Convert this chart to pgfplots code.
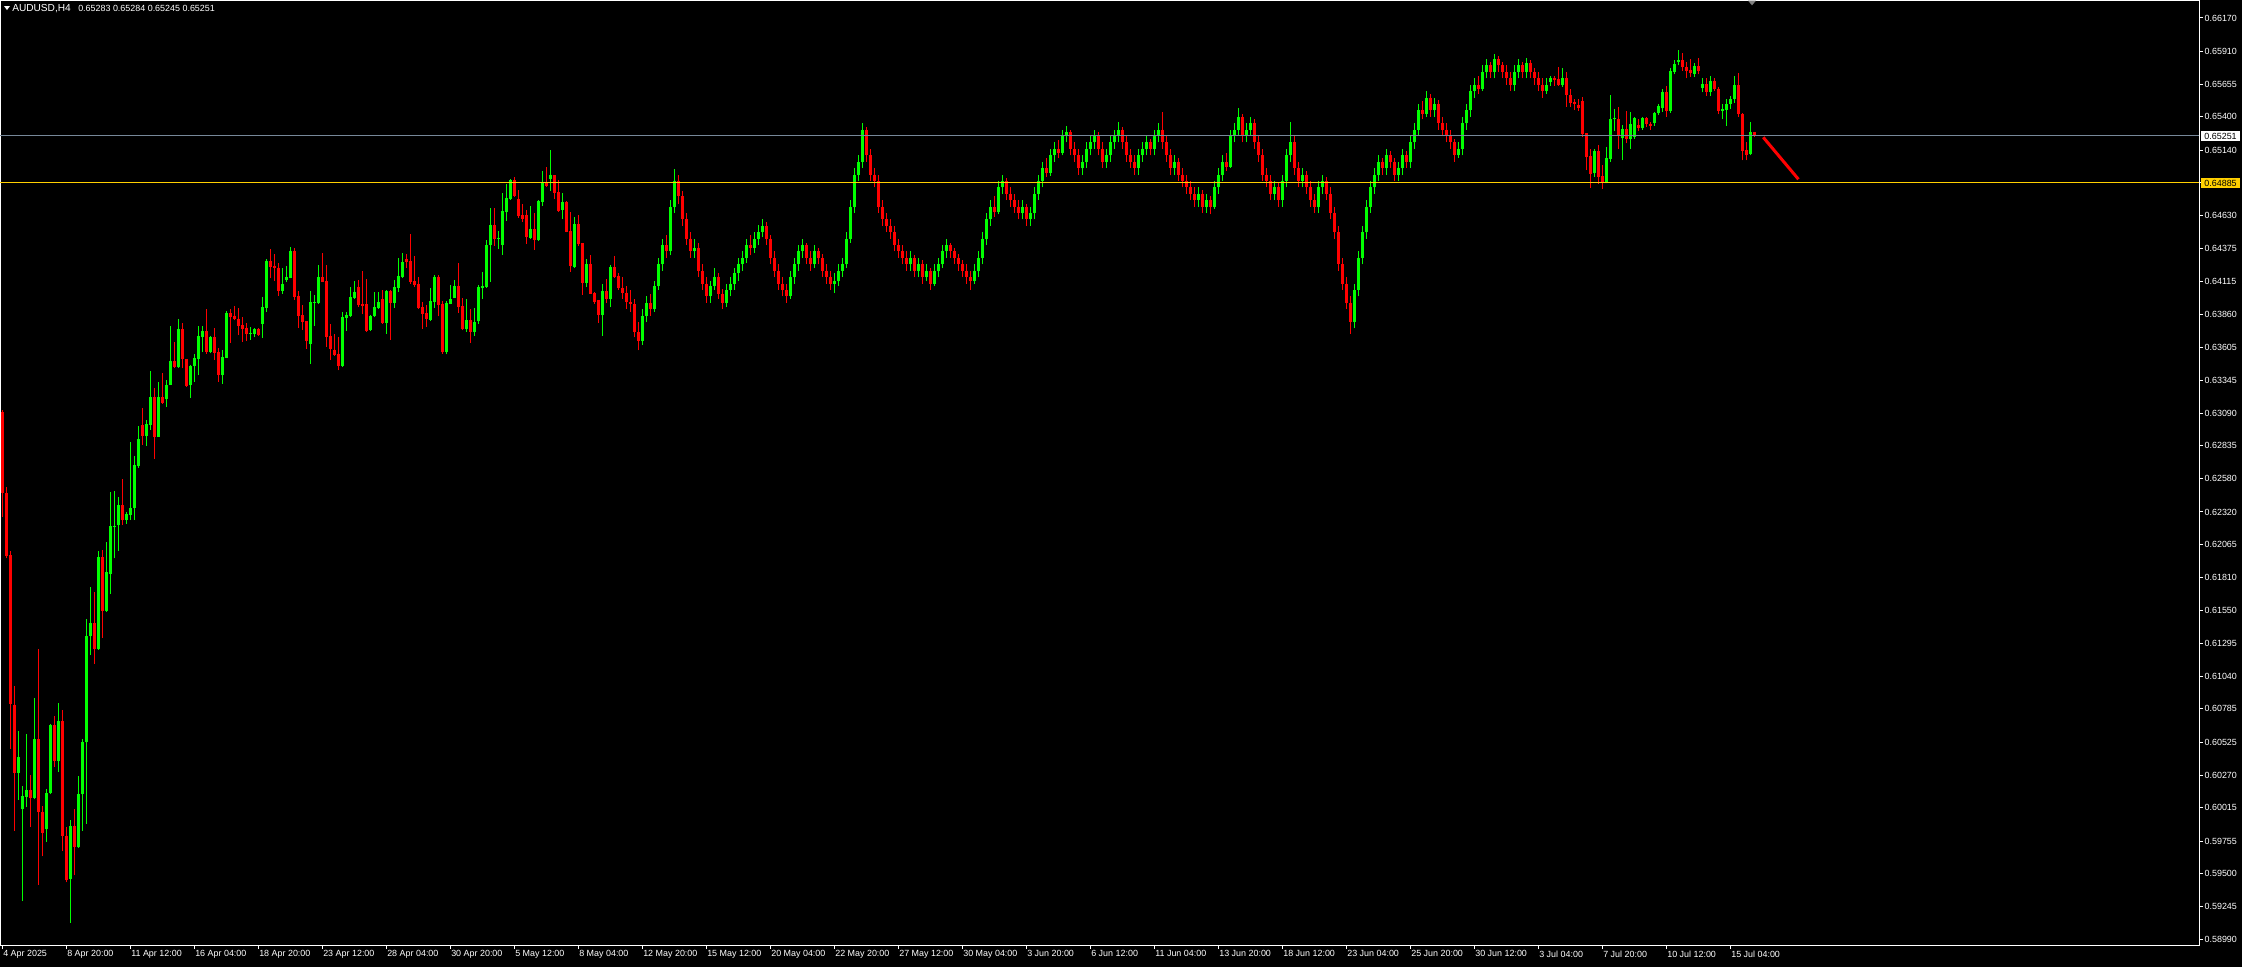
\documentclass[border=0pt]{standalone}
\usepackage{fontspec}
\setmainfont{Liberation Sans}
\usepackage{pgfplots}
\usepackage{pgfplotstable}
\pgfplotsset{compat=1.18}

\definecolor{bull}{RGB}{0,255,0}
\definecolor{bear}{RGB}{255,0,0}
\definecolor{bidline}{RGB}{119,136,153}
\definecolor{gold}{RGB}{255,208,0}

% AUDUSD H4 bars: index, open, high, low, close
\pgfplotstableread{
i o h l c
0 0.63098 0.63112 0.62280 0.62468
1 0.62468 0.62514 0.61958 0.61979
2 0.61984 0.62019 0.60476 0.60820
3 0.60817 0.60964 0.59837 0.60288
4 0.60288 0.60610 0.60079 0.60414
5 0.60006 0.60186 0.59287 0.60105
6 0.60100 0.60588 0.60020 0.60153
7 0.60153 0.60267 0.59864 0.60092
8 0.60092 0.60871 0.60080 0.60549
9 0.60549 0.61254 0.59415 0.59984
10 0.59984 0.60025 0.59636 0.59818
11 0.59850 0.60164 0.59751 0.60127
12 0.60127 0.60670 0.60119 0.60656
13 0.60656 0.60728 0.60334 0.60382
14 0.60382 0.60830 0.60294 0.60691
15 0.60691 0.60776 0.59676 0.59797
16 0.59797 0.59864 0.59434 0.59454
17 0.59461 0.59923 0.59118 0.59869
18 0.59869 0.60004 0.59488 0.59711
19 0.59711 0.60261 0.59703 0.60119
20 0.60119 0.60554 0.59837 0.60527
21 0.60527 0.61486 0.59891 0.61351
22 0.61351 0.61735 0.61206 0.61453
23 0.61453 0.61694 0.61139 0.61254
24 0.61254 0.62019 0.61246 0.61966
25 0.61966 0.62022 0.61341 0.61550
26 0.61550 0.62086 0.61542 0.61850
27 0.61837 0.62475 0.61684 0.62207
28 0.62207 0.62481 0.61958 0.62210
29 0.62220 0.62436 0.62019 0.62374
30 0.62374 0.62577 0.62218 0.62257
31 0.62257 0.62322 0.62230 0.62304
32 0.62296 0.62863 0.62257 0.62348
33 0.62348 0.62756 0.62257 0.62686
34 0.62678 0.62990 0.62665 0.62886
35 0.62998 0.63133 0.62842 0.62912
36 0.62912 0.63037 0.62837 0.63006
37 0.62998 0.63419 0.62959 0.63216
38 0.63216 0.63286 0.62733 0.62907
39 0.62907 0.63333 0.62907 0.63216
40 0.63216 0.63403 0.63162 0.63167
41 0.63200 0.63348 0.63141 0.63309
42 0.63309 0.63769 0.63309 0.63496
43 0.63496 0.63644 0.63439 0.63450
44 0.63450 0.63824 0.63444 0.63746
45 0.63746 0.63793 0.63439 0.63512
46 0.63512 0.63512 0.63294 0.63302
47 0.63309 0.63465 0.63211 0.63460
48 0.63460 0.63551 0.63335 0.63520
49 0.63512 0.63769 0.63387 0.63694
50 0.63686 0.63772 0.63569 0.63730
51 0.63730 0.63902 0.63554 0.63567
52 0.63567 0.63694 0.63556 0.63683
53 0.63683 0.63756 0.63507 0.63559
54 0.63569 0.63595 0.63335 0.63387
55 0.63387 0.63582 0.63320 0.63528
56 0.63520 0.63886 0.63517 0.63871
57 0.63871 0.63904 0.63637 0.63842
58 0.63850 0.63925 0.63813 0.63824
59 0.63824 0.63910 0.63699 0.63769
60 0.63777 0.63839 0.63647 0.63746
61 0.63756 0.63793 0.63652 0.63710
62 0.63710 0.63762 0.63663 0.63715
63 0.63710 0.63751 0.63684 0.63746
64 0.63746 0.63756 0.63692 0.63699
65 0.63787 0.63995 0.63678 0.63917
66 0.63912 0.64294 0.63881 0.64276
67 0.64276 0.64369 0.64141 0.64229
68 0.64240 0.64330 0.64120 0.64224
69 0.64224 0.64258 0.64006 0.64042
70 0.64042 0.64219 0.64021 0.64099
71 0.64130 0.64240 0.64115 0.64151
72 0.64146 0.64385 0.64141 0.64354
73 0.64354 0.64377 0.63975 0.63995
74 0.64006 0.64042 0.63756 0.63850
75 0.63855 0.63933 0.63738 0.63803
76 0.63808 0.63808 0.63590 0.63652
77 0.63632 0.64042 0.63476 0.63956
78 0.63951 0.64011 0.63772 0.63956
79 0.63948 0.64245 0.63943 0.64151
80 0.64151 0.64338 0.64112 0.64115
81 0.64120 0.64245 0.63606 0.63683
82 0.63694 0.63787 0.63507 0.63590
83 0.63585 0.63710 0.63538 0.63543
84 0.63554 0.63684 0.63424 0.63460
85 0.63460 0.63878 0.63450 0.63839
86 0.63834 0.63881 0.63733 0.63855
87 0.63850 0.64073 0.63842 0.63995
88 0.63990 0.64120 0.63980 0.64034
89 0.64073 0.64130 0.63917 0.63933
90 0.63943 0.64198 0.63860 0.63928
91 0.63941 0.64138 0.63725 0.63730
92 0.63735 0.63855 0.63730 0.63850
93 0.63850 0.64032 0.63839 0.63917
94 0.63912 0.64032 0.63902 0.63956
95 0.63980 0.64052 0.63787 0.63793
96 0.63793 0.64050 0.63710 0.64042
97 0.64042 0.64047 0.63663 0.63948
98 0.63948 0.64125 0.63912 0.64073
99 0.64068 0.64302 0.64037 0.64159
100 0.64151 0.64338 0.64146 0.64268
101 0.64291 0.64333 0.64224 0.64271
102 0.64276 0.64489 0.64099 0.64115
103 0.64120 0.64317 0.64073 0.64089
104 0.64097 0.64151 0.63902 0.63912
105 0.63917 0.63954 0.63748 0.63865
106 0.63871 0.63933 0.63764 0.63824
107 0.63819 0.64068 0.63808 0.63964
108 0.63959 0.64167 0.63912 0.64151
109 0.64151 0.64167 0.63845 0.63933
110 0.63943 0.63964 0.63554 0.63569
111 0.63569 0.63964 0.63548 0.63948
112 0.63943 0.64089 0.63938 0.63980
113 0.63990 0.64130 0.63985 0.64084
114 0.64084 0.64260 0.63871 0.63917
115 0.63928 0.63985 0.63735 0.63746
116 0.63746 0.63980 0.63725 0.63816
117 0.63816 0.63902 0.63637 0.63725
118 0.63725 0.63912 0.63694 0.63800
119 0.63808 0.64089 0.63787 0.64073
120 0.64068 0.64190 0.63980 0.64084
121 0.64073 0.64442 0.64068 0.64401
122 0.64401 0.64689 0.64115 0.64556
123 0.64556 0.64689 0.64395 0.64447
124 0.64450 0.64510 0.64369 0.64454
125 0.64401 0.64806 0.64325 0.64666
126 0.64658 0.64879 0.64590 0.64767
127 0.64759 0.64915 0.64751 0.64907
128 0.64907 0.64931 0.64777 0.64782
129 0.64759 0.64827 0.64614 0.64629
130 0.64634 0.64718 0.64582 0.64603
131 0.64634 0.64671 0.64411 0.64463
132 0.64458 0.64705 0.64450 0.64525
133 0.64525 0.64650 0.64364 0.64442
134 0.64442 0.64751 0.64434 0.64744
135 0.64738 0.64977 0.64707 0.64884
136 0.64884 0.65008 0.64855 0.64863
137 0.64915 0.65140 0.64821 0.64946
138 0.64946 0.64950 0.64759 0.64806
139 0.64814 0.64907 0.64658 0.64666
140 0.64673 0.64808 0.64603 0.64736
141 0.64736 0.64740 0.64499 0.64504
142 0.64510 0.64658 0.64193 0.64240
143 0.64232 0.64619 0.64224 0.64564
144 0.64564 0.64634 0.64395 0.64411
145 0.64416 0.64420 0.64011 0.64107
146 0.64107 0.64294 0.64076 0.64253
147 0.64253 0.64323 0.64019 0.64021
148 0.64026 0.64037 0.63943 0.63959
149 0.63972 0.63974 0.63793 0.63855
150 0.63855 0.64097 0.63694 0.64042
151 0.64042 0.64136 0.63948 0.63980
152 0.63980 0.64245 0.63917 0.64229
153 0.64229 0.64315 0.64146 0.64151
154 0.64162 0.64182 0.64052 0.64068
155 0.64068 0.64150 0.63980 0.64030
156 0.64030 0.64080 0.63900 0.63960
157 0.63960 0.64050 0.63880 0.63940
158 0.63940 0.63980 0.63680 0.63720
159 0.63720 0.63800 0.63580 0.63650
160 0.63650 0.63900 0.63620 0.63850
161 0.63850 0.64000 0.63800 0.63950
162 0.63950 0.64020 0.63850 0.63900
163 0.63900 0.64120 0.63880 0.64080
164 0.64080 0.64300 0.64050 0.64250
165 0.64250 0.64450 0.64200 0.64400
166 0.64400 0.64480 0.64300 0.64350
167 0.64350 0.64750 0.64320 0.64700
168 0.64700 0.64990 0.64650 0.64900
169 0.64900 0.64950 0.64720 0.64780
170 0.64780 0.64820 0.64550 0.64600
171 0.64600 0.64650 0.64400 0.64450
172 0.64450 0.64500 0.64300 0.64350
173 0.64350 0.64450 0.64300 0.64380
174 0.64380 0.64420 0.64150 0.64200
175 0.64200 0.64250 0.64050 0.64100
176 0.64100 0.64150 0.63950 0.64000
177 0.64000 0.64120 0.63950 0.64080
178 0.64080 0.64220 0.64050 0.64150
179 0.64150 0.64180 0.63980 0.64020
180 0.64020 0.64060 0.63900 0.63950
181 0.63950 0.64100 0.63920 0.64050
182 0.64050 0.64150 0.64000 0.64100
183 0.64100 0.64220 0.64050 0.64180
184 0.64180 0.64300 0.64120 0.64250
185 0.64250 0.64350 0.64200 0.64300
186 0.64300 0.64450 0.64260 0.64400
187 0.64400 0.64480 0.64320 0.64380
188 0.64380 0.64500 0.64340 0.64450
189 0.64450 0.64560 0.64400 0.64500
190 0.64500 0.64600 0.64460 0.64550
191 0.64550 0.64580 0.64400 0.64450
192 0.64450 0.64480 0.64250 0.64300
193 0.64300 0.64350 0.64150 0.64200
194 0.64200 0.64250 0.64050 0.64100
195 0.64100 0.64150 0.64000 0.64050
196 0.64050 0.64100 0.63950 0.64000
197 0.64000 0.64200 0.63980 0.64150
198 0.64150 0.64300 0.64100 0.64250
199 0.64250 0.64400 0.64200 0.64350
200 0.64350 0.64450 0.64300 0.64400
201 0.64400 0.64420 0.64250 0.64300
202 0.64300 0.64350 0.64200 0.64250
203 0.64250 0.64400 0.64220 0.64350
204 0.64350 0.64380 0.64250 0.64300
205 0.64300 0.64330 0.64150 0.64200
206 0.64200 0.64250 0.64100 0.64150
207 0.64150 0.64200 0.64050 0.64100
208 0.64100 0.64180 0.64030 0.64120
209 0.64120 0.64250 0.64080 0.64200
210 0.64200 0.64300 0.64150 0.64250
211 0.64250 0.64500 0.64220 0.64450
212 0.64450 0.64750 0.64420 0.64700
213 0.64700 0.65000 0.64650 0.64950
214 0.64950 0.65100 0.64900 0.65050
215 0.65050 0.65350 0.65000 0.65300
216 0.65300 0.65320 0.65050 0.65100
217 0.65100 0.65150 0.64900 0.64950
218 0.64950 0.65000 0.64850 0.64900
219 0.64900 0.64950 0.64650 0.64700
220 0.64700 0.64750 0.64550 0.64600
221 0.64600 0.64650 0.64500 0.64550
222 0.64550 0.64600 0.64450 0.64500
223 0.64500 0.64550 0.64350 0.64400
224 0.64400 0.64450 0.64300 0.64350
225 0.64350 0.64400 0.64250 0.64300
226 0.64300 0.64350 0.64200 0.64250
227 0.64250 0.64350 0.64200 0.64300
228 0.64300 0.64320 0.64150 0.64200
229 0.64200 0.64300 0.64150 0.64250
230 0.64250 0.64280 0.64100 0.64150
231 0.64150 0.64250 0.64120 0.64200
232 0.64200 0.64220 0.64050 0.64100
233 0.64100 0.64250 0.64080 0.64200
234 0.64200 0.64300 0.64150 0.64250
235 0.64250 0.64400 0.64220 0.64350
236 0.64350 0.64450 0.64300 0.64400
237 0.64400 0.64420 0.64300 0.64350
238 0.64350 0.64380 0.64250 0.64300
239 0.64300 0.64330 0.64200 0.64250
240 0.64250 0.64280 0.64150 0.64200
241 0.64200 0.64250 0.64100 0.64150
242 0.64150 0.64200 0.64050 0.64120
243 0.64120 0.64250 0.64100 0.64200
244 0.64200 0.64350 0.64150 0.64300
245 0.64300 0.64500 0.64250 0.64450
246 0.64450 0.64650 0.64400 0.64600
247 0.64600 0.64750 0.64550 0.64700
248 0.64700 0.64780 0.64620 0.64660
249 0.64660 0.64900 0.64640 0.64850
250 0.64850 0.64950 0.64800 0.64900
251 0.64900 0.64920 0.64750 0.64800
252 0.64800 0.64850 0.64700 0.64750
253 0.64750 0.64800 0.64650 0.64700
254 0.64700 0.64750 0.64600 0.64650
255 0.64650 0.64750 0.64600 0.64700
256 0.64700 0.64720 0.64550 0.64600
257 0.64600 0.64700 0.64550 0.64650
258 0.64650 0.64850 0.64600 0.64800
259 0.64800 0.64950 0.64750 0.64900
260 0.64900 0.65050 0.64850 0.65000
261 0.65000 0.65080 0.64930 0.64960
262 0.64960 0.65150 0.64940 0.65100
263 0.65100 0.65200 0.65050 0.65150
264 0.65150 0.65220 0.65080 0.65120
265 0.65120 0.65300 0.65100 0.65250
266 0.65250 0.65330 0.65200 0.65280
267 0.65280 0.65300 0.65100 0.65150
268 0.65150 0.65200 0.65050 0.65100
269 0.65100 0.65150 0.64950 0.65000
270 0.65000 0.65100 0.64950 0.65050
271 0.65050 0.65200 0.65000 0.65150
272 0.65150 0.65250 0.65100 0.65200
273 0.65200 0.65300 0.65150 0.65250
274 0.65250 0.65280 0.65100 0.65150
275 0.65150 0.65200 0.65000 0.65050
276 0.65050 0.65150 0.65000 0.65100
277 0.65100 0.65250 0.65050 0.65200
278 0.65200 0.65300 0.65150 0.65250
279 0.65250 0.65360 0.65200 0.65300
280 0.65300 0.65320 0.65150 0.65200
281 0.65200 0.65250 0.65050 0.65100
282 0.65100 0.65150 0.65000 0.65050
283 0.65050 0.65100 0.64950 0.65000
284 0.65000 0.65150 0.64950 0.65100
285 0.65100 0.65200 0.65050 0.65150
286 0.65150 0.65250 0.65100 0.65200
287 0.65200 0.65230 0.65100 0.65150
288 0.65150 0.65300 0.65100 0.65250
289 0.65250 0.65350 0.65200 0.65300
290 0.65300 0.65440 0.65150 0.65200
291 0.65200 0.65250 0.65050 0.65100
292 0.65100 0.65150 0.64950 0.65000
293 0.65000 0.65100 0.64950 0.65050
294 0.65050 0.65080 0.64900 0.64950
295 0.64950 0.65000 0.64850 0.64900
296 0.64900 0.64950 0.64800 0.64850
297 0.64850 0.64900 0.64750 0.64800
298 0.64800 0.64850 0.64700 0.64750
299 0.64750 0.64850 0.64700 0.64800
300 0.64800 0.64830 0.64650 0.64700
301 0.64700 0.64800 0.64650 0.64750
302 0.64750 0.64780 0.64640 0.64700
303 0.64700 0.64900 0.64680 0.64850
304 0.64850 0.65000 0.64800 0.64950
305 0.64950 0.65100 0.64900 0.65050
306 0.65050 0.65120 0.64980 0.65010
307 0.65010 0.65300 0.65000 0.65250
308 0.65250 0.65350 0.65200 0.65300
309 0.65300 0.65470 0.65250 0.65400
310 0.65400 0.65420 0.65200 0.65250
311 0.65250 0.65350 0.65200 0.65300
312 0.65300 0.65400 0.65250 0.65350
313 0.65350 0.65380 0.65150 0.65200
314 0.65200 0.65250 0.65050 0.65100
315 0.65100 0.65150 0.64900 0.64950
316 0.64950 0.65000 0.64850 0.64900
317 0.64900 0.64950 0.64750 0.64800
318 0.64800 0.64900 0.64750 0.64850
319 0.64850 0.64880 0.64700 0.64750
320 0.64750 0.64950 0.64700 0.64900
321 0.64900 0.65150 0.64850 0.65100
322 0.65100 0.65360 0.65050 0.65200
323 0.65200 0.65250 0.64950 0.65000
324 0.65000 0.65050 0.64850 0.64900
325 0.64900 0.65000 0.64850 0.64950
326 0.64950 0.64980 0.64800 0.64850
327 0.64850 0.64900 0.64700 0.64750
328 0.64750 0.64800 0.64650 0.64700
329 0.64700 0.64900 0.64650 0.64850
330 0.64850 0.64950 0.64800 0.64900
331 0.64900 0.64930 0.64750 0.64800
332 0.64800 0.64850 0.64600 0.64650
333 0.64650 0.64700 0.64450 0.64500
334 0.64500 0.64550 0.64200 0.64250
335 0.64250 0.64300 0.64050 0.64100
336 0.64100 0.64150 0.63900 0.63950
337 0.63950 0.64000 0.63710 0.63800
338 0.63800 0.64100 0.63750 0.64050
339 0.64050 0.64350 0.64000 0.64300
340 0.64300 0.64550 0.64250 0.64500
341 0.64500 0.64750 0.64450 0.64700
342 0.64700 0.64900 0.64650 0.64850
343 0.64850 0.65000 0.64800 0.64950
344 0.64950 0.65100 0.64900 0.65050
345 0.65050 0.65080 0.64950 0.65000
346 0.65000 0.65150 0.64950 0.65100
347 0.65100 0.65130 0.65000 0.65050
348 0.65050 0.65080 0.64900 0.64950
349 0.64950 0.65050 0.64900 0.65000
350 0.65000 0.65150 0.64950 0.65100
351 0.65100 0.65130 0.65000 0.65050
352 0.65050 0.65250 0.65000 0.65200
353 0.65200 0.65350 0.65150 0.65300
354 0.65300 0.65500 0.65250 0.65450
355 0.65450 0.65520 0.65380 0.65420
356 0.65420 0.65600 0.65400 0.65550
357 0.65550 0.65580 0.65400 0.65450
358 0.65450 0.65550 0.65400 0.65500
359 0.65500 0.65530 0.65300 0.65350
360 0.65350 0.65400 0.65250 0.65300
361 0.65300 0.65350 0.65200 0.65250
362 0.65250 0.65300 0.65150 0.65200
363 0.65200 0.65230 0.65050 0.65100
364 0.65100 0.65200 0.65080 0.65150
365 0.65150 0.65400 0.65100 0.65350
366 0.65350 0.65500 0.65300 0.65450
367 0.65450 0.65650 0.65400 0.65600
368 0.65600 0.65700 0.65550 0.65650
369 0.65650 0.65720 0.65580 0.65620
370 0.65620 0.65800 0.65600 0.65750
371 0.65750 0.65850 0.65700 0.65800
372 0.65800 0.65830 0.65700 0.65750
373 0.65750 0.65890 0.65700 0.65850
374 0.65850 0.65870 0.65750 0.65800
375 0.65800 0.65830 0.65700 0.65750
376 0.65750 0.65800 0.65650 0.65700
377 0.65700 0.65750 0.65600 0.65650
378 0.65650 0.65800 0.65600 0.65750
379 0.65750 0.65850 0.65700 0.65800
380 0.65800 0.65830 0.65700 0.65750
381 0.65750 0.65860 0.65700 0.65820
382 0.65820 0.65840 0.65700 0.65750
383 0.65750 0.65780 0.65650 0.65700
384 0.65700 0.65750 0.65600 0.65650
385 0.65650 0.65700 0.65550 0.65600
386 0.65600 0.65700 0.65580 0.65650
387 0.65673 0.65717 0.65642 0.65704
388 0.65704 0.65717 0.65642 0.65690
389 0.65694 0.65785 0.65642 0.65647
390 0.65647 0.65780 0.65634 0.65704
391 0.65704 0.65749 0.65478 0.65567
392 0.65567 0.65614 0.65478 0.65510
393 0.65517 0.65536 0.65452 0.65497
394 0.65491 0.65538 0.65447 0.65471
395 0.65523 0.65556 0.65245 0.65265
396 0.65273 0.65273 0.64985 0.65089
397 0.65094 0.65148 0.64847 0.64954
398 0.64959 0.65148 0.64933 0.65133
399 0.65133 0.65180 0.64876 0.64933
400 0.64938 0.65021 0.64839 0.64886
401 0.64881 0.65164 0.64881 0.65081
402 0.65071 0.65569 0.65050 0.65382
403 0.65380 0.65460 0.65289 0.65387
404 0.65382 0.65476 0.65148 0.65252
405 0.65232 0.65336 0.65063 0.65304
406 0.65304 0.65445 0.65193 0.65226
407 0.65226 0.65437 0.65150 0.65341
408 0.65245 0.65400 0.65230 0.65387
409 0.65336 0.65380 0.65290 0.65315
410 0.65315 0.65400 0.65300 0.65390
411 0.65390 0.65400 0.65320 0.65345
412 0.65345 0.65360 0.65300 0.65330
413 0.65349 0.65440 0.65330 0.65426
414 0.65426 0.65500 0.65415 0.65484
415 0.65465 0.65620 0.65440 0.65595
416 0.65595 0.65640 0.65400 0.65447
417 0.65447 0.65780 0.65430 0.65756
418 0.65749 0.65840 0.65730 0.65811
419 0.65829 0.65920 0.65800 0.65842
420 0.65842 0.65900 0.65760 0.65785
421 0.65785 0.65830 0.65700 0.65759
422 0.65764 0.65850 0.65710 0.65738
423 0.65733 0.65820 0.65710 0.65795
424 0.65795 0.65860 0.65730 0.65759
425 0.65627 0.65700 0.65590 0.65655
426 0.65655 0.65700 0.65560 0.65595
427 0.65595 0.65720 0.65560 0.65678
428 0.65678 0.65700 0.65600 0.65614
429 0.65614 0.65630 0.65420 0.65447
430 0.65447 0.65500 0.65380 0.65460
431 0.65452 0.65540 0.65330 0.65499
432 0.65499 0.65560 0.65460 0.65538
433 0.65536 0.65720 0.65510 0.65647
434 0.65647 0.65740 0.65400 0.65421
435 0.65421 0.65430 0.65060 0.65133
436 0.65141 0.65200 0.65060 0.65102
437 0.65112 0.65360 0.65100 0.65281
438 0.65283 0.65284 0.65245 0.65251
}\bars

\newcommand{\uifont}{\fontsize{6.7}{8}\selectfont}

\begin{document}
\begin{tikzpicture}
% 1 px of the screenshot = 0.75pt
\fill[black] (0pt,0pt) rectangle (1681.5pt,-725.25pt);
\begin{axis}[
  at={(0pt,0pt)}, anchor=north west,
  scale only axis, width=1649.25pt, height=708.75pt,
  xmin=-0.5, xmax=549.25, ymin=0.58945, ymax=0.66310,
  axis background/.style={fill=black},
  axis line style={white, line width=0.75pt},
  tick style={white, line width=0.75pt},
  tick align=outside, major tick length=3pt,
  xtick pos=left, xticklabel pos=left,
  ytick pos=right, yticklabel pos=right,
  xtick={0,16,...,432},
  xticklabels={4 Apr 2025, 8 Apr 20:00, 11 Apr 12:00, 16 Apr 04:00, 18 Apr 20:00, 23 Apr 12:00, 28 Apr 04:00, 30 Apr 20:00, 5 May 12:00, 8 May 04:00, 12 May 20:00, 15 May 12:00, 20 May 04:00, 22 May 20:00, 27 May 12:00, 30 May 04:00, 3 Jun 20:00, 6 Jun 12:00, 11 Jun 04:00, 13 Jun 20:00, 18 Jun 12:00, 23 Jun 04:00, 25 Jun 20:00, 30 Jun 12:00, 3 Jul 04:00, 7 Jul 20:00, 10 Jul 12:00, 15 Jul 04:00},
  ytick={0.58990,0.59245,0.59500,0.59755,0.60015,0.60270,0.60525,0.60785,0.61040,0.61295,0.61550,0.61810,0.62065,0.62320,0.62580,0.62835,0.63090,0.63345,0.63605,0.63860,0.64115,0.64375,0.64630,0.64885,0.65140,0.65400,0.65655,0.65910,0.66170},
  yticklabels={0.58990,0.59245,0.59500,0.59755,0.60015,0.60270,0.60525,0.60785,0.61040,0.61295,0.61550,0.61810,0.62065,0.62320,0.62580,0.62835,0.63090,0.63345,0.63605,0.63860,0.64115,0.64375,0.64630,0.64885,0.65140,0.65400,0.65655,0.65910,0.66170},
  tick label style={font=\uifont, text=white},
  xticklabel style={anchor=north west, inner sep=0pt, xshift=0.75pt, yshift=-1pt},
  yticklabel style={anchor=west, inner sep=0pt, xshift=1pt},
]
% wicks
\addplot[bull, line width=0.75pt, quiver={u=0, v=\thisrow{h}-\thisrow{l}},
  restrict expr to domain={\thisrow{c}-\thisrow{o}}{0:1}] table[x=i, y=l] {\bars};
\addplot[bear, line width=0.75pt, quiver={u=0, v=\thisrow{h}-\thisrow{l}},
  restrict expr to domain={\thisrow{o}-\thisrow{c}}{0.000001:1}] table[x=i, y=l] {\bars};
% bodies
\addplot[bull, line width=2.25pt, quiver={u=0, v=\thisrow{c}-\thisrow{o}},
  restrict expr to domain={\thisrow{c}-\thisrow{o}}{0:1}] table[x=i, y=o] {\bars};
\addplot[bear, line width=2.25pt, quiver={u=0, v=\thisrow{c}-\thisrow{o}},
  restrict expr to domain={\thisrow{o}-\thisrow{c}}{0.000001:1}] table[x=i, y=o] {\bars};
% price lines
\addplot[bidline, line width=0.75pt] coordinates {(-0.5,0.65251) (549.25,0.65251)};
\addplot[gold, line width=0.75pt] coordinates {(-0.5,0.64885) (549.25,0.64885)};
% trend arrow
\addplot[bear, line width=2.25pt] coordinates {(440.3,0.65240) (449.1,0.64913)};
\end{axis}
% price labels on the scale
\fill[white] (1650.75pt,-98.25pt) rectangle (1680pt,-105.75pt);
\node[font=\uifont, text=black, inner sep=0pt] at (1665.4pt,-102pt) {0.65251};
\fill[gold] (1650.75pt,-133.5pt) rectangle (1680pt,-141pt);
\node[font=\uifont, text=black, inner sep=0pt] at (1665.4pt,-137.25pt) {0.64885};
% header
\fill[white] (3pt,-4.5pt) -- (7.5pt,-4.5pt) -- (5.25pt,-7.5pt) -- cycle;
\node[font=\fontsize{7.6}{9}\selectfont, text=white, anchor=west, inner sep=0pt] at (9pt,-6.5pt) {AUDUSD,H4};
\node[font=\uifont, text=white, anchor=west, inner sep=0pt] at (58.5pt,-6.5pt) {0.65283 0.65284 0.65245 0.65251};
% chart shift marker
\fill[gray] (1311pt,-0.5pt) -- (1317pt,-0.5pt) -- (1314pt,-4pt) -- cycle;
\pgfresetboundingbox
\useasboundingbox (0pt,0pt) rectangle (1681.5pt,-725.25pt);
\end{tikzpicture}
\end{document}
